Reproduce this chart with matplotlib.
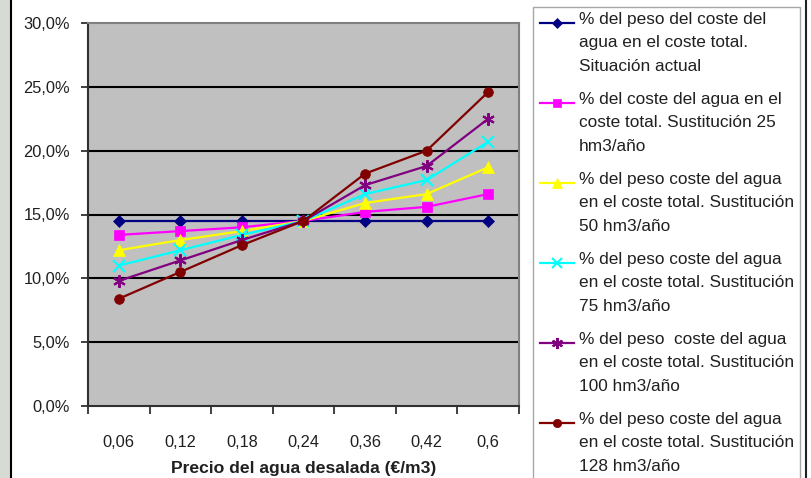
import matplotlib
matplotlib.use("Agg")
import matplotlib.pyplot as plt
from matplotlib.lines import Line2D
from matplotlib.patches import Rectangle
import numpy as np

plt.rcParams["font.family"] = ["Liberation Sans", "DejaVu Sans"]

# datos
precios = ["0,06", "0,12", "0,18", "0,24", "0,36", "0,42", "0,6"]

situacion_actual = [14.5, 14.5, 14.5, 14.5, 14.5, 14.5, 14.5]
sustitucion_25 = [13.4, 13.7, 14.0, 14.5, 15.2, 15.6, 16.6]
sustitucion_50 = [12.2, 13.0, 13.7, 14.5, 15.9, 16.6, 18.7]
sustitucion_75 = [11.0, 12.2, 13.4, 14.5, 16.6, 17.7, 20.7]
sustitucion_100 = [9.8, 11.4, 13.0, 14.5, 17.3, 18.8, 22.5]
sustitucion_128 = [8.4, 10.5, 12.6, 14.5, 18.2, 20.0, 24.6]

etiquetas = [
    "% del peso del coste del\nagua en el coste total.\nSituación actual",
    "% del coste del agua en el\ncoste total. Sustitución 25\nhm3/año",
    "% del peso coste del agua\nen el coste total. Sustitución\n50 hm3/año",
    "% del peso coste del agua\nen el coste total. Sustitución\n75 hm3/año",
    "% del peso  coste del agua\nen el coste total. Sustitución\n100 hm3/año",
    "% del peso coste del agua\nen el coste total. Sustitución\n128 hm3/año",
]

series = [
    situacion_actual,
    sustitucion_25,
    sustitucion_50,
    sustitucion_75,
    sustitucion_100,
    sustitucion_128,
]

colores = ["#000080", "#FF00FF", "#FFFF00", "#00FFFF", "#800080", "#800000"]
marcadores = ["D", "s", "^", "x", (6, 2, 0), "o"]
tamanos = [6, 7, 8, 8, 9, 7]

W, H = 812, 478
fig = plt.figure(figsize=(W / 100, H / 100), dpi=100)
fig.patch.set_facecolor("white")

# borde izquierdo y derecho de la captura
fig.add_artist(Rectangle((0, 0), 10 / W, 1, transform=fig.transFigure,
                         facecolor="#d6dbd4", edgecolor="none"))
fig.add_artist(Line2D([11.5 / W, 11.5 / W], [0, 1], transform=fig.transFigure,
                      color="black", lw=1.5))
fig.add_artist(Line2D([806 / W, 806 / W], [0, 1], transform=fig.transFigure,
                      color="#202020", lw=1.5))

ax = fig.add_axes([88 / W, 1 - 406 / H, (519 - 88) / W, (406 - 23) / H])
ax.set_facecolor("#C0C0C0")

x = np.arange(len(precios))

for valores, color, marcador, tam in zip(series, colores, marcadores, tamanos):
    ax.plot(
        x,
        valores,
        color=color,
        marker=marcador,
        markersize=tam,
        markeredgewidth=1.5 if marcador in ("x", (6, 2, 0)) else 0.5,
        markeredgecolor=color,
        linewidth=1.6,
        zorder=3,
    )

ax.set_ylim(0, 30)
ax.set_xlim(-0.5, len(precios) - 0.5)

yticks = np.arange(0, 31, 5)
ax.set_yticks(yticks)
ax.set_yticklabels([f"{v:.1f}".replace(".", ",") + "%" for v in yticks])
for v in yticks[1:-1]:
    ax.axhline(v, color="black", lw=1.5, zorder=1)

ax.set_xticks(x)
ax.set_xticklabels(precios)
ax.set_xticks(np.arange(-0.5, len(precios)), minor=True)
ax.tick_params(axis="x", which="major", length=0, pad=21, labelsize=11.8,
               colors="#202020")
ax.tick_params(axis="x", which="minor", length=6, width=1.2, color="#202020")
ax.tick_params(axis="y", length=5, width=1.2, pad=8, labelsize=11.8,
               colors="#202020")

ax.spines["left"].set_color("#303030")
ax.spines["left"].set_linewidth(1.5)
ax.spines["bottom"].set_color("#303030")
ax.spines["bottom"].set_linewidth(1.5)
ax.spines["top"].set_color("#808080")
ax.spines["top"].set_linewidth(1.5)
ax.spines["right"].set_color("#808080")
ax.spines["right"].set_linewidth(1.5)

ax.set_xlabel("Precio del agua desalada (€/m3)", fontsize=12.6,
              fontweight="bold", labelpad=8, color="#202020")

# leyenda dibujada a mano (marcador alineado con la primera linea)
fig.add_artist(Rectangle((533 / W, -0.05), (800 - 533) / W, 1.05 - 7 / H,
                         transform=fig.transFigure, facecolor="white",
                         edgecolor="#a8a8a8", lw=1.0))
for i, (etiqueta, color, marcador, tam) in enumerate(
        zip(etiquetas, colores, marcadores, tamanos)):
    y_px = 23 + 80 * i
    yf = 1 - y_px / H
    fig.add_artist(Line2D([540 / W, 574 / W], [yf, yf], transform=fig.transFigure,
                          color=color, lw=1.6))
    fig.add_artist(Line2D([557 / W], [yf], transform=fig.transFigure,
                          color=color, marker=marcador, markersize=tam - 1,
                          markeredgecolor=color,
                          markeredgewidth=1.5 if marcador in ("x", (6, 2, 0)) else 0.5))
    fig.text(579 / W, 1 - (y_px - 11) / H, etiqueta, fontsize=12.4,
             va="top", ha="left", linespacing=1.7, color="#202020")

fig.savefig("out.png", dpi=100)
